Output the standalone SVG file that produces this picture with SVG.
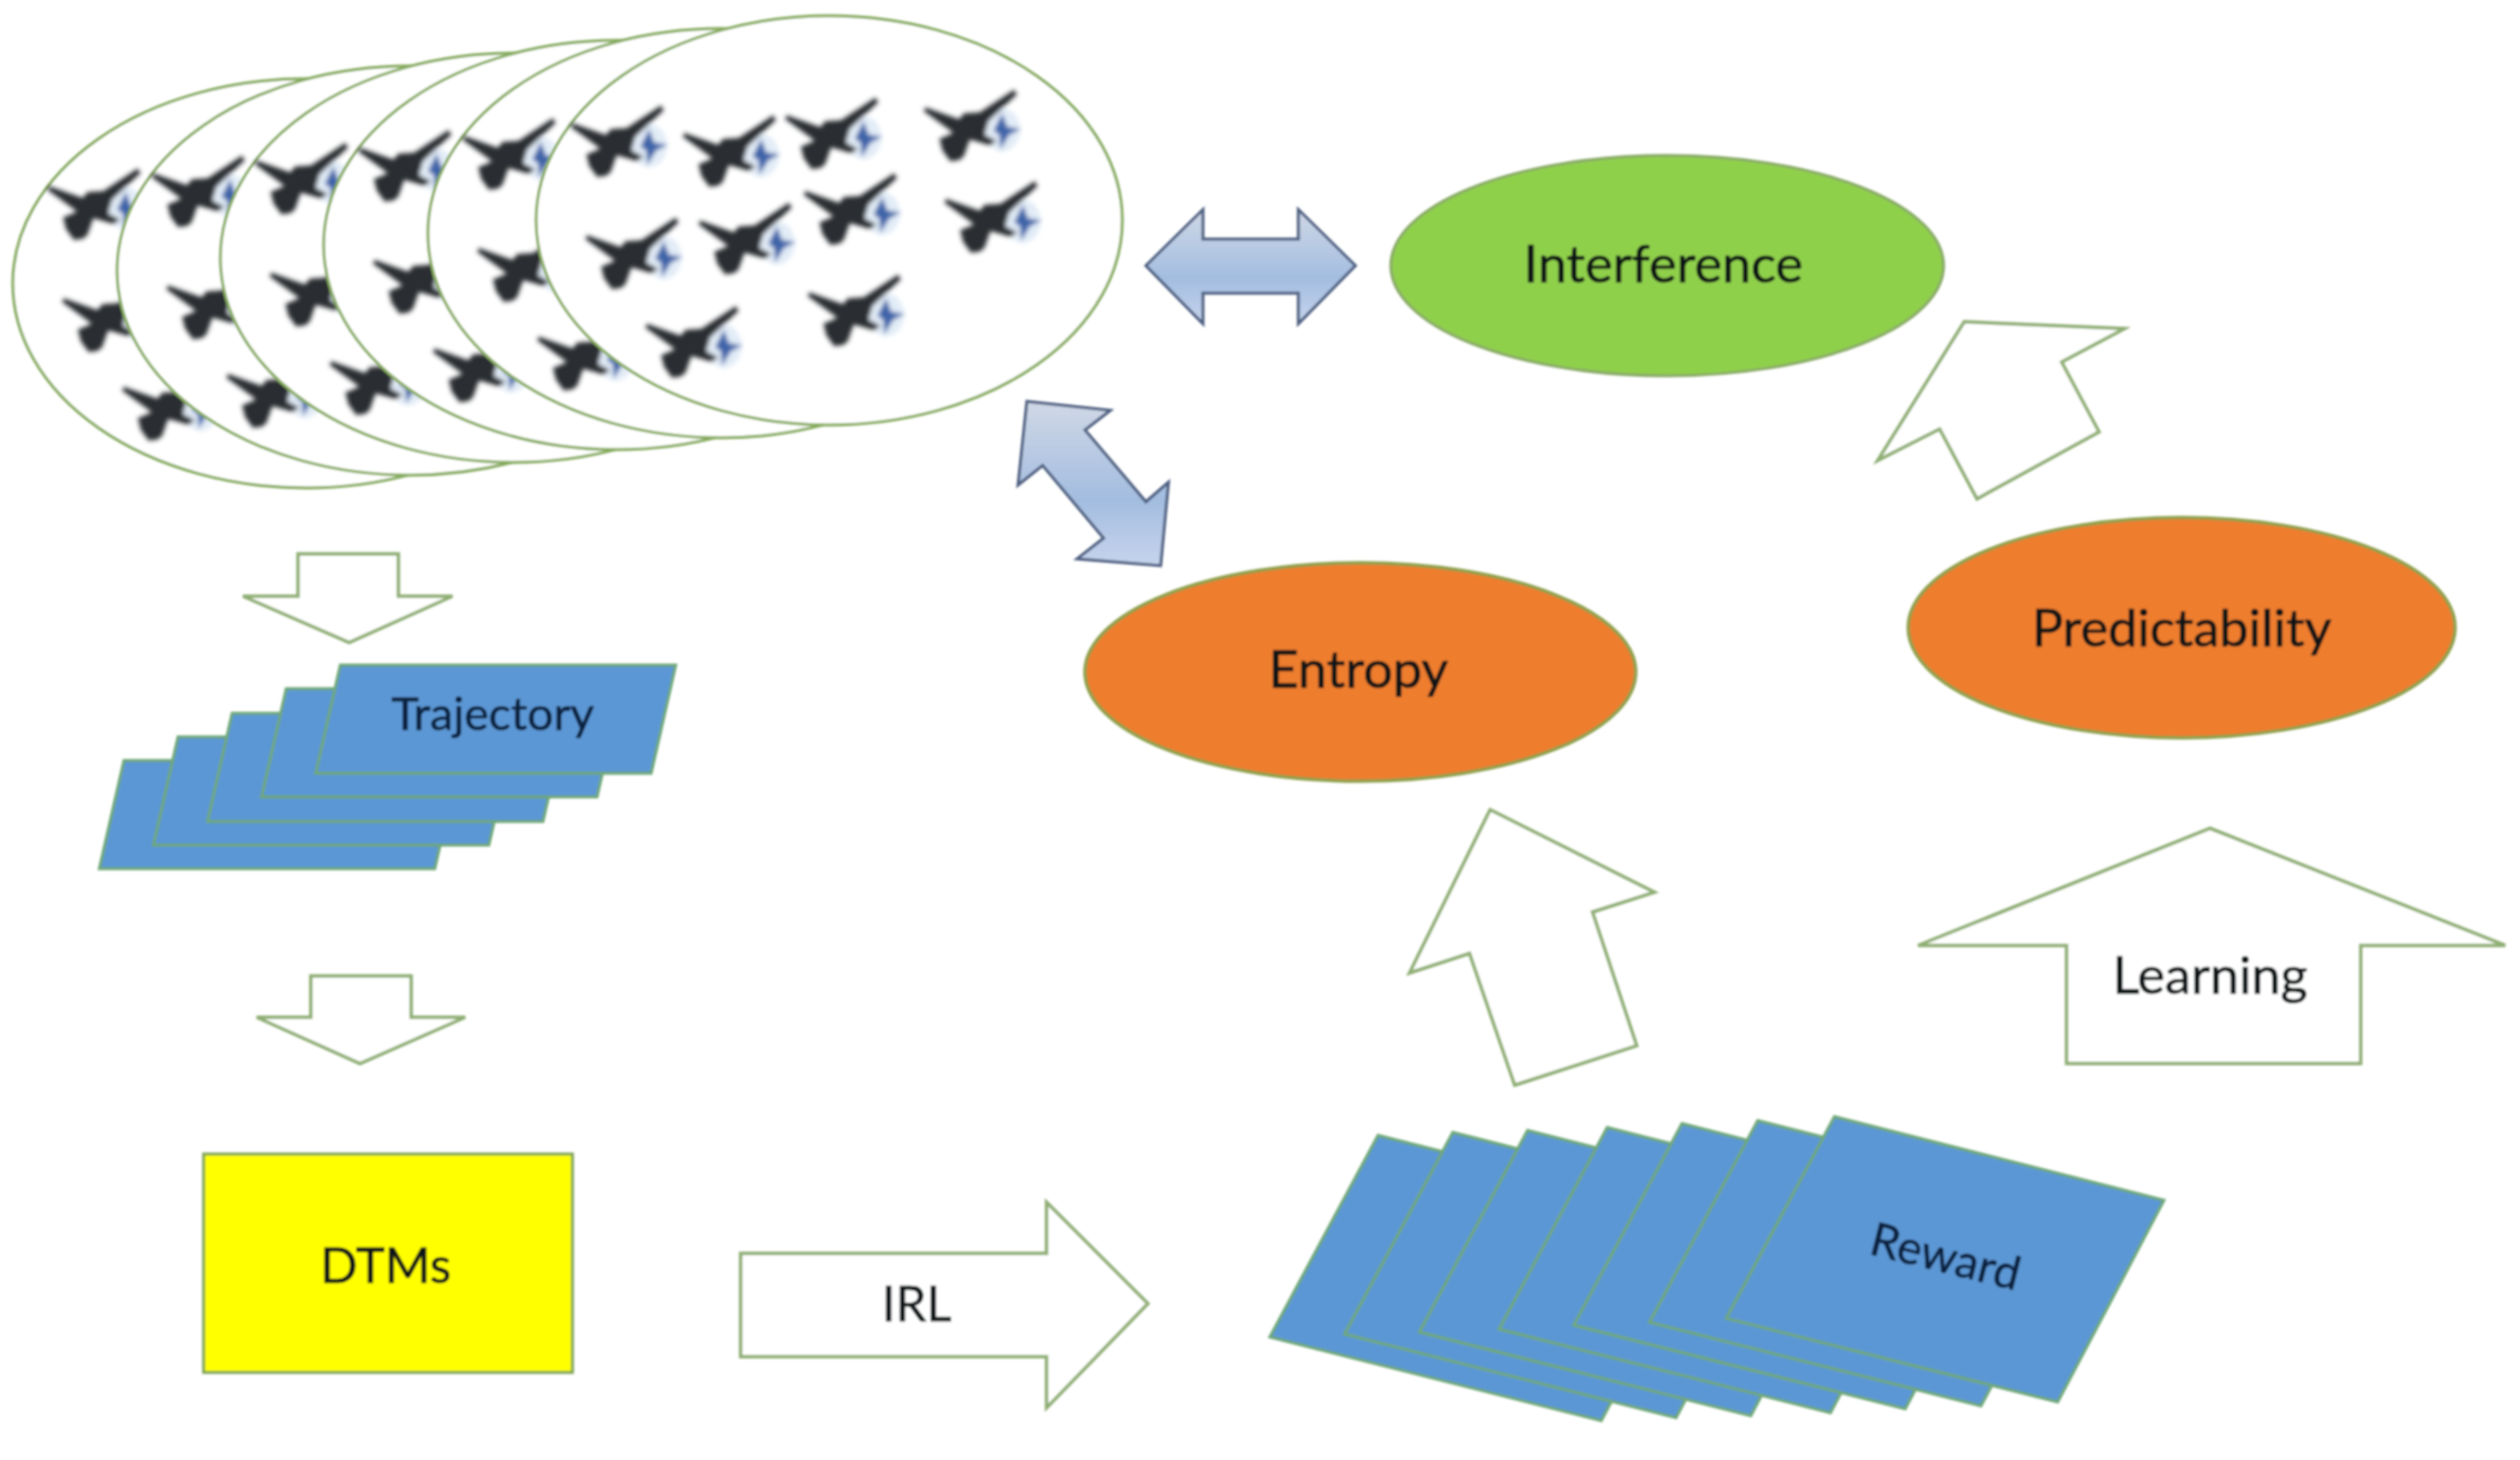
<svg xmlns="http://www.w3.org/2000/svg" width="2562" height="1484" viewBox="0 0 2562 1484">
<style>
text{font-family:"Lato","Noto Sans","Liberation Sans",sans-serif;font-size:53px;fill:#101418;stroke:#101418;stroke-width:.7;text-anchor:middle}
.ring{fill:#fff;stroke:#86ab5e;stroke-width:3}
.hollow{fill:#fff;stroke:#8fae74;stroke-width:3.5;stroke-linejoin:miter}
.card{fill:#5b97d5;stroke:#6fa878;stroke-width:3}
.dbl{fill:url(#blueGrad);stroke:#4d5f80;stroke-width:3;stroke-linejoin:miter}
.navy{fill:#0c2340;stroke:#0c2340}
</style>
<defs>
<linearGradient id="blueGrad" x1="0" y1="0" x2="0" y2="1"><stop offset="0" stop-color="#d0d8e6"/><stop offset=".6" stop-color="#a3bde0"/><stop offset="1" stop-color="#c6d4ec"/></linearGradient>
<filter id="soft" x="-30%" y="-30%" width="160%" height="160%"><feGaussianBlur stdDeviation="2.2"/></filter>
<filter id="scan" filterUnits="userSpaceOnUse" x="0" y="0" width="2562" height="1484"><feGaussianBlur stdDeviation=".8"/></filter>
<g id="plane" filter="url(#soft)">
<ellipse cx="36" cy="3" rx="18" ry="22" fill="#e2ecf7"/>
<path d="M13-15 48-38 51-33 22-6 18 8 30 14 24 19 3 13-3 30-8 34-17 35-25 24-28 12-14 6-44-16-42-20-8-8-3-14Z" fill="#2b2d33"/>
<path d="M36-14 41 0 55 2 43 8 34 23 33 8 27 4Z" fill="#3d64a8"/>
</g>
<g id="flight">
<use href="#plane" x="-219" y="-79"/><use href="#plane" x="-105" y="-69"/><use href="#plane" x="-1" y="-87"/><use href="#plane" x="140" y="-95"/>
<use href="#plane" x="-204" y="35"/><use href="#plane" x="-89" y="20"/><use href="#plane" x="18" y="-10"/><use href="#plane" x="161" y="-2"/>
<use href="#plane" x="-143" y="125"/><use href="#plane" x="22" y="93"/>
</g>
<ellipse id="ringShape" rx="298" ry="208" class="ring"/>
<path id="trajCard" d="M25 0H366L341 110H0Z" class="card"/>
<path id="rewardCard" d="M110 0 445 85 337 290 0 205Z" class="card"/>
</defs>
<rect width="2562" height="1484" fill="#fff"/>
<g id="picture" filter="url(#scan)">
<g id="fleet">
<g id="fleet-1" transform="translate(311 288)"><use href="#ringShape"/><use href="#flight"/></g>
<g id="fleet-2" transform="translate(417 275)"><use href="#ringShape"/><use href="#flight"/></g>
<g id="fleet-3" transform="translate(522 262)"><use href="#ringShape"/><use href="#flight"/></g>
<g id="fleet-4" transform="translate(627 249)"><use href="#ringShape"/><use href="#flight"/></g>
<g id="fleet-5" transform="translate(733 237)"><use href="#ringShape"/><use href="#flight"/></g>
<g id="fleet-6" transform="translate(843 224)"><use href="#ringShape"/><use href="#flight"/></g>
</g>
<g id="interference"><ellipse cx="1695" cy="270" rx="281" ry="112" fill="#8fd04c" stroke="#8aab68" stroke-width="3"/><text x="1691" y="287">Interference</text></g>
<g id="entropy"><ellipse cx="1383" cy="683" rx="280" ry="111" fill="#ee7d2d" stroke="#8fa04e" stroke-width="3.5"/><text x="1381" y="699">Entropy</text></g>
<g id="predictability"><ellipse cx="2218" cy="638" rx="278" ry="112" fill="#ee7d2d" stroke="#8fa04e" stroke-width="3.5"/><text x="2218" y="657">Predictability</text></g>
<g id="trajectory">
<use href="#trajCard" x="101" y="773"/><use href="#trajCard" x="156" y="749"/><use href="#trajCard" x="211" y="725"/><use href="#trajCard" x="266" y="700"/><use href="#trajCard" x="321" y="676"/>
<text class="navy" x="501" y="742" style="font-size:47px">Trajectory</text>
</g>
<g id="dtms"><rect x="207" y="1173" width="375" height="222" fill="#ffff00" stroke="#7fa35a" stroke-width="3"/><text x="392" y="1304" style="font-size:50px">DTMs</text></g>
<g id="reward">
<use href="#rewardCard" x="1291" y="1154"/><use href="#rewardCard" x="1367" y="1151"/><use href="#rewardCard" x="1443" y="1149"/><use href="#rewardCard" x="1524" y="1146"/><use href="#rewardCard" x="1600" y="1142"/><use href="#rewardCard" x="1677" y="1139"/><use href="#rewardCard" x="1755" y="1135"/>
<text class="navy" transform="translate(1974 1293) rotate(14)" style="font-size:47px">Reward</text>
</g>
<g id="connectors">
<path id="arrow-fleet-interference" class="dbl" d="M1165 270 1223 213V243H1320V213L1378 270 1320 329V298H1223V329Z"/>
<path id="arrow-fleet-entropy" class="dbl" d="M1044 408 1129 417 1103 437 1165 510 1188 490 1180 575 1095 568 1122 547 1060 473 1035 493Z"/>
<path id="arrow-predict-interference" class="hollow" d="M1997 327 2160 334 2096 368 2134 439 2010 507 1972 436 1909 468Z"/>
<path id="arrow-reward-entropy" class="hollow" d="M1515 823 1682 907 1619 927 1664 1063 1540 1103 1494 969 1433 989Z"/>
<path id="arrow-fleet-trajectory" class="hollow" d="M303 563H405V606H460L355 653 247 606H303Z"/>
<path id="arrow-trajectory-dtms" class="hollow" d="M316 992H418V1034H473L366 1081 261 1034H316Z"/>
<g id="arrow-irl"><path class="hollow" d="M753 1274H1064V1222L1167 1325 1064 1431V1379H753Z"/><text x="932" y="1343" style="font-size:50px">IRL</text></g>
<g id="arrow-learning"><path class="hollow" d="M2247 842 2547 961H2400V1081H2101V961H1950Z"/><text x="2247" y="1010">Learning</text></g>
</g>
</g>
</svg>
